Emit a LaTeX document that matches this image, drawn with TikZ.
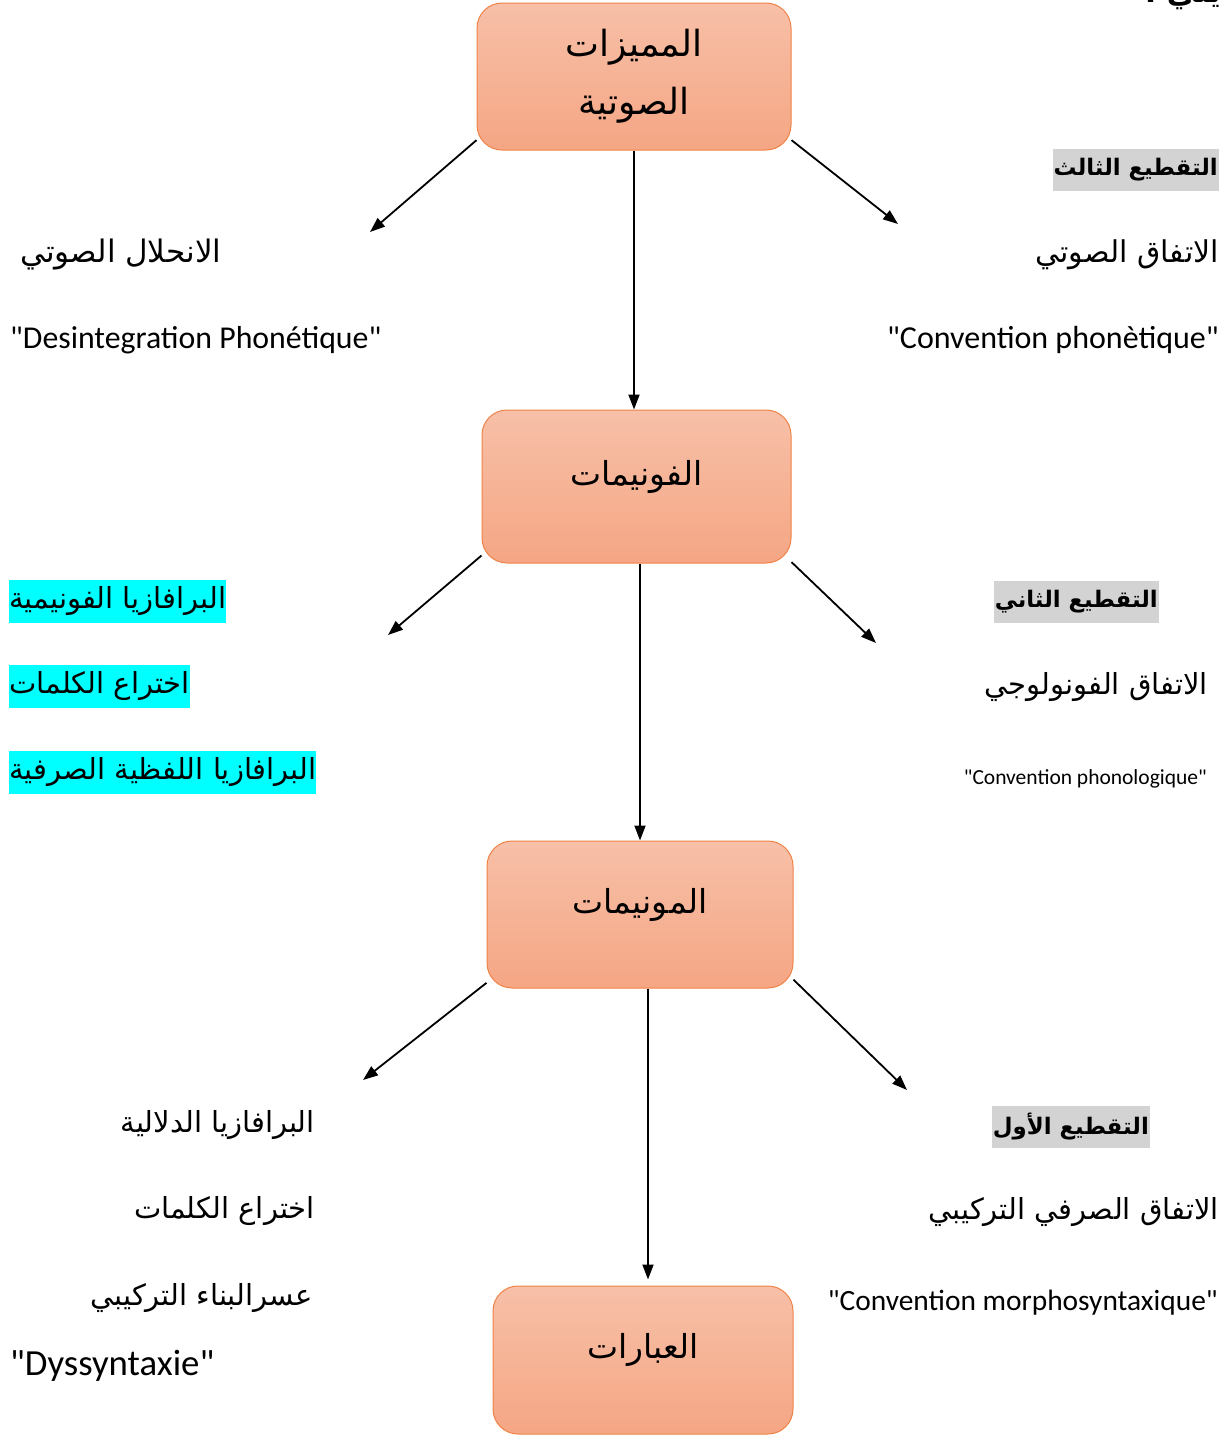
\documentclass[tikz,border=0pt]{standalone}
\usepackage{fontspec}
\newfontfamily\latfont{Carlito}
\newfontfamily\arabicfont[Script=Arabic]{DejaVu Sans}
\TeXXeTstate=1
\usetikzlibrary{arrows.meta}

\definecolor{boxtop}{RGB}{247,192,168}
\definecolor{boxbot}{RGB}{245,166,132}
\definecolor{boxedge}{RGB}{240,130,70}
\definecolor{headgray}{RGB}{211,211,211}
\definecolor{hlcyan}{RGB}{0,255,255}

\begin{document}
\begin{tikzpicture}[
        x=1pt, y=-1pt,
        box/.style={draw=boxedge, line width=1pt, rounded corners=25pt,
            top color=boxtop, bottom color=boxbot, align=center,
            font=\arabicfont\fontsize{33}{58}\selectfont},
        raised/.style={text depth=28pt},
        arr/.style={-{Triangle[length=15pt,width=11pt]}, line width=1.8pt},
        ar/.style={font=\arabicfont\fontsize{29}{34}\selectfont, inner sep=0pt},
        lat/.style={font=\latfont\fontsize{30}{36}\selectfont, inner sep=0pt},
        head/.style={font=\arabicfont\bfseries\fontsize{22.8}{28}\selectfont,
            fill=headgray, inner xsep=1pt, inner ysep=0pt, minimum height=42pt},
        hl/.style={ar, fill=hlcyan, minimum height=43pt},
    ]
    \useasboundingbox (0,0) rectangle (1228,1436);

    %% the four boxes
    \node[box, font=\arabicfont\fontsize{36}{58}\selectfont,
        minimum width=314pt, minimum height=147pt] (b1) at (634,76.5)
        {\beginR المميزات\endR\\\beginR الصوتية\endR};
    \node[box, raised, minimum width=309pt, minimum height=153pt] (b2) at (636.5,486.5)
        {\beginR الفونيمات\endR};
    \node[box, raised, minimum width=306pt, minimum height=147pt] (b3) at (640,914.5)
        {\beginR المونيمات\endR};
    \node[box, raised, minimum width=300pt, minimum height=148pt] (b4) at (643,1360)
        {\beginR العبارات\endR};

    %% cut line at the top
    \node[ar, font=\arabicfont\bfseries\fontsize{30}{34}\selectfont, anchor=base east]
        (cut) at (1221,2.5) {\beginR يلي :\endR};

    %% arrows
    \coordinate (e1l) at (370,232);
    \coordinate (e1r) at (898,224);
    \coordinate (e2l) at (388,635);
    \coordinate (e2r) at (876,643);
    \coordinate (e3l) at (363,1080);
    \coordinate (e3r) at (907,1090);
    \draw[arr] (b1.202) -- (e1l);
    \draw[arr] (b1.338) -- (e1r);
    \draw[arr] (b1.south) -- (b1.south |- b2.north);
    \draw[arr] (b2.204) -- (e2l);
    \draw[arr] (b2.334) -- (e2r);
    \draw[arr] (b2.south -| b3.north) -- (b3.north);
    \draw[arr] (b3.204) -- (e3l);
    \draw[arr] (b3.337) -- (e3r);
    \draw[arr, shorten >=6pt] ([xshift=8pt]b3.south) -- ([xshift=8pt]b3.south |- b4.north);

    %% right column
    \node[head, anchor=east] (t3) at (1219,170) {\beginR التقطيع الثالث\endR};
    \node[ar, font=\arabicfont\fontsize{30}{34}\selectfont, anchor=east] (r1a) at (1219,255)
        {\beginR الاتفاق الصوتي\endR};
    \node[lat, font=\latfont\fontsize{32}{36}\selectfont, anchor=east] (r1b) at (1219,340)
        {"Convention phonètique"};
    \node[head, anchor=east] (t2) at (1159,602) {\beginR التقطيع الثاني\endR};
    \node[ar, anchor=east] (r2a) at (1208,687) {\beginR الاتفاق الفونولوجي\endR};
    \node[lat, font=\latfont\fontsize{21.5}{26}\selectfont, anchor=east] (r2b) at (1207,779)
        {"Convention phonologique"};
    \node[head, anchor=east] (t1) at (1150,1127) {\beginR التقطيع الأول\endR};
    \node[ar, anchor=east] (r3a) at (1219,1212) {\beginR الاتفاق الصرفي التركيبي\endR};
    \node[lat, font=\latfont\fontsize{29.4}{34}\selectfont, anchor=east] (r3b) at (1218,1303)
        {"Convention morphosyntaxique"};

    %% left column
    \node[ar, font=\arabicfont\fontsize{31}{36}\selectfont, anchor=west] (l1a) at (20,255)
        {\beginR الانحلال الصوتي\endR};
    \node[lat, font=\latfont\fontsize{31.8}{36}\selectfont, anchor=west] (l1b) at (10,340)
        {"Desintegration Phonétique"};
    \node[hl, anchor=west] (l2a) at (9,601) {\beginR البرافازيا الفونيمية\endR};
    \node[hl, anchor=west] (l2b) at (9,686) {\beginR اختراع الكلمات\endR};
    \node[hl, anchor=west] (l2c) at (9,772) {\beginR البرافازيا اللفظية الصرفية\endR};
    \node[ar, anchor=east] (l3a) at (315,1125) {\beginR البرافازيا الدلالية\endR};
    \node[ar, anchor=east] (l3b) at (315,1211) {\beginR اختراع الكلمات\endR};
    \node[ar, anchor=east] (l3c) at (313,1298) {\beginR عسرالبناء التركيبي\endR};
    \node[lat, font=\latfont\fontsize{36.8}{42}\selectfont, anchor=west] (l3d) at (10,1366)
        {"Dyssyntaxie"};
\end{tikzpicture}
\end{document}
